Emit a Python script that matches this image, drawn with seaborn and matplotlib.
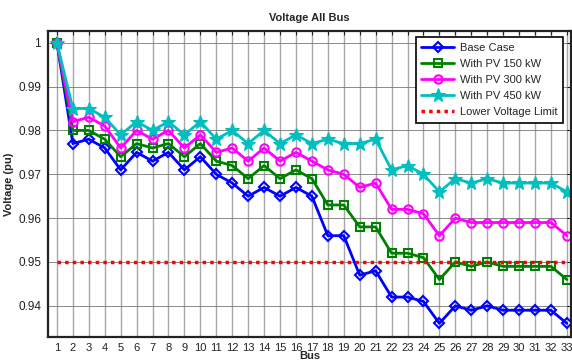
import matplotlib
matplotlib.use("Agg")
import matplotlib.pyplot as plt
import seaborn as sns
import pandas as pd

buses = list(range(1, 34))
base_case = [1.0, 0.977, 0.978, 0.976, 0.971, 0.975, 0.973, 0.975, 0.971, 0.974,
             0.970, 0.968, 0.965, 0.967, 0.965, 0.967, 0.965, 0.956, 0.956, 0.947,
             0.948, 0.942, 0.942, 0.941, 0.936, 0.940, 0.939, 0.940, 0.939, 0.939,
             0.939, 0.939, 0.936]
pv_150 = [1.0, 0.980, 0.980, 0.978, 0.974, 0.977, 0.976, 0.977, 0.974, 0.977,
          0.973, 0.972, 0.969, 0.972, 0.969, 0.971, 0.969, 0.963, 0.963, 0.958,
          0.958, 0.952, 0.952, 0.951, 0.946, 0.950, 0.949, 0.950, 0.949, 0.949,
          0.949, 0.949, 0.946]
pv_300 = [1.0, 0.982, 0.983, 0.981, 0.976, 0.980, 0.978, 0.980, 0.976, 0.979,
          0.975, 0.976, 0.973, 0.976, 0.973, 0.975, 0.973, 0.971, 0.970, 0.967,
          0.968, 0.962, 0.962, 0.961, 0.956, 0.960, 0.959, 0.959, 0.959, 0.959,
          0.959, 0.959, 0.956]
pv_450 = [1.0, 0.985, 0.985, 0.983, 0.979, 0.982, 0.980, 0.982, 0.979, 0.982,
          0.978, 0.980, 0.977, 0.980, 0.977, 0.979, 0.977, 0.978, 0.977, 0.977,
          0.978, 0.971, 0.972, 0.970, 0.966, 0.969, 0.968, 0.969, 0.968, 0.968,
          0.968, 0.968, 0.966]
lower_limit = [0.95] * 33
series_names = ["Base Case", "With PV 150 kW", "With PV 300 kW", "With PV 450 kW",
                "Lower Voltage Limit"]
y_ticks = [0.94, 0.95, 0.96, 0.97, 0.98, 0.99, 1.0]
y_tick_labels = ["0.94", "0.95", "0.96", "0.97", "0.98", "0.99", "1"]

sns.set_style("white")
plt.rcParams["font.family"] = ["Liberation Sans", "DejaVu Sans"]

fig = plt.figure(figsize=(5.72, 3.64), dpi=100)
ax = fig.add_axes([0.0839, 0.0742, 0.9141, 0.8406])

styles = [
    dict(color="#0000ff", marker="D", ms=5, mfc="none", mew=1.5, lw=2),
    dict(color="#008000", marker="s", ms=5.5, mfc="none", mew=1.5, lw=2),
    dict(color="#ff00ff", marker="o", ms=6, mfc="none", mew=1.5, lw=2),
    dict(color="#00bfbf", marker="*", ms=10, mfc="#00bfbf", mew=0.8, lw=2),
]
values = [base_case, pv_150, pv_300, pv_450]
for name, vals, st in zip(series_names[:4], values, styles):
    df = pd.DataFrame({"Bus": buses, "Voltage": vals})
    sns.lineplot(data=df, x="Bus", y="Voltage", ax=ax, label=name,
                 color=st["color"], marker=st["marker"], markersize=st["ms"],
                 markerfacecolor=st["mfc"], markeredgecolor=st["color"],
                 markeredgewidth=st["mew"], linewidth=st["lw"])

df_lim = pd.DataFrame({"Bus": buses, "Voltage": lower_limit})
sns.lineplot(data=df_lim, x="Bus", y="Voltage", ax=ax, label=series_names[4],
             color="#ff0000", linestyle=(0, (1, 1.2)), linewidth=2.5)

ax.set_xlim(0.44, 33.25)
ax.set_ylim(0.9329, 1.00267)
ax.set_xticks(buses)
ax.set_xticklabels([str(b) for b in buses], fontsize=8)
ax.set_yticks(y_ticks)
ax.set_yticklabels(y_tick_labels, fontsize=8.5)
ax.tick_params(direction="in", top=True, right=True, length=3, width=0.8,
               colors="#222222", pad=5)
ax.tick_params(axis="x", pad=4)
ax.grid(True, axis="x", color="#a8a8a8", linewidth=1.0)
ax.grid(True, axis="y", color="#777777", linewidth=0.6)
ax.set_axisbelow(True)
for sp in ax.spines.values():
    sp.set_color("#222222")
    sp.set_linewidth(1.6)

ax.set_title("Voltage All Bus", fontsize=8, fontweight="bold", pad=7)
ax.set_xlabel("Bus", fontsize=8, fontweight="bold", labelpad=-1)
ax.set_ylabel("Voltage (pu)", fontsize=8, fontweight="bold", labelpad=3)

leg = ax.legend(loc="upper right", bbox_to_anchor=(563 / 572, 1 - 37 / 364),
                bbox_transform=fig.transFigure, fontsize=8, frameon=True,
                fancybox=False, edgecolor="black", framealpha=1,
                borderpad=0.5, labelspacing=0.55, handlelength=3.0,
                handletextpad=0.5, borderaxespad=0)
leg.get_frame().set_linewidth(1.2)

fig.savefig("out.png", dpi=100)
